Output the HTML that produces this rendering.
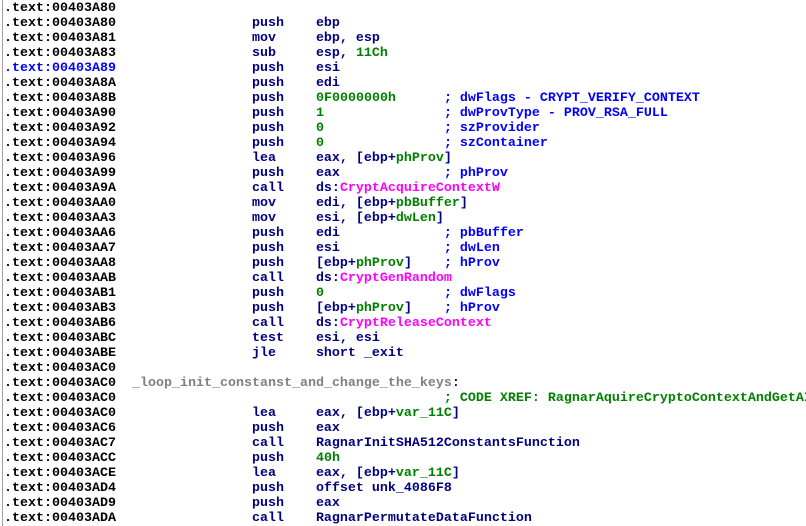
<!DOCTYPE html>
<html><head><meta charset="utf-8"><style>
html,body{margin:0;padding:0;background:#fff;width:806px;height:526px;overflow:hidden;position:relative}
.bar{position:absolute;left:2px;top:0;width:1px;height:526px;background:#a0a0a0}
pre{position:absolute;left:4px;top:1px;margin:0;font-family:"Liberation Mono",monospace;font-size:13.33px;line-height:15px;font-weight:bold;color:#000;white-space:pre}
.m{color:#000080}.n{color:#008000}.c{color:#0000ff}.i{color:#ff00ff}.h{color:#0000ff}.l{color:#808080}.x{color:#008000}
</style></head><body><div class="bar"></div>
<pre>.text:00403A80
.text:00403A80                 <span class="m">push    ebp</span>
.text:00403A81                 <span class="m">mov     ebp, esp</span>
.text:00403A83                 <span class="m">sub     esp, <span class="n">11Ch</span></span>
<span class="h">.text:00403A89</span>                 <span class="m">push    esi</span>
.text:00403A8A                 <span class="m">push    edi</span>
.text:00403A8B                 <span class="m">push    </span><span class="n">0F0000000h</span>      <span class="c">; dwFlags - CRYPT_VERIFY_CONTEXT</span>
.text:00403A90                 <span class="m">push    </span><span class="n">1</span>               <span class="c">; dwProvType - PROV_RSA_FULL</span>
.text:00403A92                 <span class="m">push    </span><span class="n">0</span>               <span class="c">; szProvider</span>
.text:00403A94                 <span class="m">push    </span><span class="n">0</span>               <span class="c">; szContainer</span>
.text:00403A96                 <span class="m">lea     eax, [ebp+<span class="n">phProv</span>]</span>
.text:00403A99                 <span class="m">push    eax</span>             <span class="c">; phProv</span>
.text:00403A9A                 <span class="m">call    ds:<span class="i">CryptAcquireContextW</span></span>
.text:00403AA0                 <span class="m">mov     edi, [ebp+<span class="n">pbBuffer</span>]</span>
.text:00403AA3                 <span class="m">mov     esi, [ebp+<span class="n">dwLen</span>]</span>
.text:00403AA6                 <span class="m">push    edi</span>             <span class="c">; pbBuffer</span>
.text:00403AA7                 <span class="m">push    esi</span>             <span class="c">; dwLen</span>
.text:00403AA8                 <span class="m">push    [ebp+<span class="n">phProv</span>]</span>    <span class="c">; hProv</span>
.text:00403AAB                 <span class="m">call    ds:<span class="i">CryptGenRandom</span></span>
.text:00403AB1                 <span class="m">push    </span><span class="n">0</span>               <span class="c">; dwFlags</span>
.text:00403AB3                 <span class="m">push    [ebp+<span class="n">phProv</span>]</span>    <span class="c">; hProv</span>
.text:00403AB6                 <span class="m">call    ds:<span class="i">CryptReleaseContext</span></span>
.text:00403ABC                 <span class="m">test    esi, esi</span>
.text:00403ABE                 <span class="m">jle     short _exit</span>
.text:00403AC0
.text:00403AC0  <span class="l">_loop_init_constanst_and_change_the_keys</span><span class="m">:</span>
.text:00403AC0                                         <span class="x">; CODE XREF: RagnarAquireCryptoContextAndGetAI</span>
.text:00403AC0                 <span class="m">lea     eax, [ebp+<span class="n">var_11C</span>]</span>
.text:00403AC6                 <span class="m">push    eax</span>
.text:00403AC7                 <span class="m">call    RagnarInitSHA512ConstantsFunction</span>
.text:00403ACC                 <span class="m">push    </span><span class="n">40h</span>
.text:00403ACE                 <span class="m">lea     eax, [ebp+<span class="n">var_11C</span>]</span>
.text:00403AD4                 <span class="m">push    offset unk_4086F8</span>
.text:00403AD9                 <span class="m">push    eax</span>
.text:00403ADA                 <span class="m">call    RagnarPermutateDataFunction</span>
</pre></body></html>
